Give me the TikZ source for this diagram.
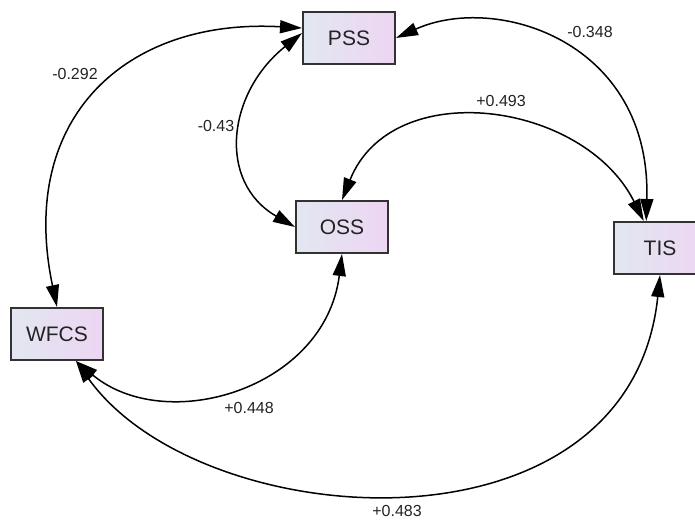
\documentclass[tikz,border=0pt]{standalone}
\usepackage{fontspec}
\setmainfont{Liberation Sans}
\usepackage{xcolor}
\usepackage{tikz}
\usetikzlibrary{positioning,arrows.meta}

\definecolor{boxleft}{RGB}{226,231,240}
\definecolor{boxright}{RGB}{237,213,243}
\definecolor{boxline}{RGB}{50,50,50}
\definecolor{txt}{RGB}{35,35,35}

\begin{document}
\begin{tikzpicture}[
  x=0.5pt, y=-0.5pt,
  every node/.style={text=txt},
  box/.style={draw=boxline, line width=1pt, left color=boxleft, right color=boxright,
    minimum width=46pt, minimum height=26pt, inner sep=0pt,
    font=\fontsize{10.5}{12}\selectfont},
  lbl/.style={font=\fontsize{8}{9.6}\selectfont, inner sep=1pt},
  cov/.style={line width=0.75pt, {Triangle[length=11pt,width=6.5pt]}-{Triangle[length=11pt,width=6.5pt]}},
]
\useasboundingbox (0,0) rectangle (695,523);

\node[box] (pss) at (349,38) {PSS};
\node[box, below=67.5pt of pss, xshift=-3.5pt] (oss) {OSS};
\node[box, right=112pt of oss, yshift=-10.5pt] (tis) {TIS};
\node[box, left=95.5pt of oss, yshift=-53.5pt] (wfcs) {WFCS};

\draw[cov] (wfcs.north) .. controls +(-40,-190) and +(-175,-10) .. (pss.168);
\draw[cov] (pss.174) .. controls +(-75,60) and +(-78,-45) .. (oss.west);
\draw[cov] (pss.east) .. controls +(100,-45) and +(5,-180) .. (tis.117);
\draw[cov] (oss.north) .. controls +(50,-125) and +(-60,-120) .. (tis.121);
\draw[cov] (oss.south) .. controls +(-17,135) and +(90,75) .. (wfcs.-55);
\draw[cov] (wfcs.-55) .. controls +(125,175) and +(-30,290) .. (tis.south);

\node[lbl] (r1) at (75,74) {-0.292};
\node[lbl] (r2) at (216,126) {-0.43};
\node[lbl] (r3) at (590,32) {-0.348};
\node[lbl] (r4) at (501,101) {+0.493};
\node[lbl] (r5) at (249,408) {+0.448};
\node[lbl] (r6) at (397,511) {+0.483};
\end{tikzpicture}
\end{document}
